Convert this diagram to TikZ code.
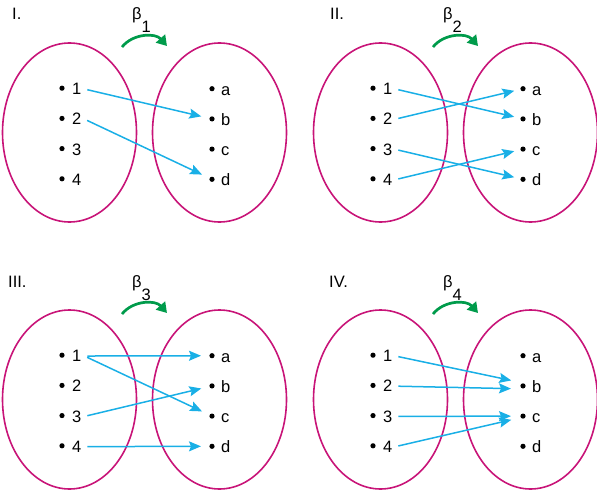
\documentclass[tikz,border=0pt]{standalone}
\usepackage{fontspec}
\setmainfont{Liberation Sans}
\usetikzlibrary{arrows.meta,shapes.geometric}
\definecolor{setpink}{RGB}{200,20,120}
\definecolor{mapblue}{RGB}{25,175,230}
\definecolor{curvegreen}{RGB}{0,155,75}

\newcommand{\setpanel}[6]{% #1 x shift, #2 y shift, #3 prefix, #4 roman label, #5 label x, #6 beta index
 \begin{scope}[shift={(#1,#2)}]
  \node[setellipse] (#3A) at (69.5,132.5) {};
  \node[setellipse] (#3B) at (219.5,132.5) {};
  \node[anchor=base west, inner sep=0pt] (#3title) at (#5,20) {#4};
  \node[anchor=base west, inner sep=0pt] (#3beta) at (132,20) {β\raisebox{-13pt}{#6}};
  \coordinate (#3g1) at (122,47);
  \coordinate (#3g2) at (167,46);
  \draw[greenarc] (#3g1) to[bend left=50] (#3g2);
  \foreach \k/\t in {1/1,2/2,3/3,4/4} {
    \node[setdot] (#3L\k) at (62,{58+30.2*\k}) {};
    \node[itemlab] (#3l\k) at (72,{64.5+30.2*\k}) {\t};
  }
  \foreach \k/\t in {1/a,2/b,3/c,4/d} {
    \node[setdot] (#3R\t) at (212,{58.5+30.2*\k}) {};
    \node[itemlab] (#3r\t) at (221,{65+30.2*\k}) {\t};
  }
 \end{scope}}

\begin{document}
\begin{tikzpicture}[x=1pt,y=-1pt,
  font=\fontsize{16.5}{19}\selectfont,
  setellipse/.style={draw=setpink, line width=1.6pt, ellipse, inner sep=0pt,
    minimum width=134pt, minimum height=179pt},
  setdot/.style={circle, fill=black, inner sep=0pt, minimum size=5.2pt},
  itemlab/.style={anchor=base west, inner sep=0pt, text width=12pt, align=left},
  mapline/.style={draw=mapblue, line width=1.5pt, shorten <=3pt, shorten >=11pt,
    -{Stealth[length=12pt,width=10pt,inset=2pt]}},
  greenarc/.style={draw=curvegreen, line width=2.7pt,
    -{Triangle[length=10pt,width=12pt]}},
]
\useasboundingbox (0,0) rectangle (597,495);

\setpanel{0}{0}{I}{I.}{12}{1}
\setpanel{311}{0}{II}{II.}{19}{2}
\setpanel{0}{267}{III}{III.}{8}{3}
\setpanel{311}{267}{IV}{IV.}{18}{4}

% I
\draw[mapline] (Il1.east) -- (IRb.center);
\draw[mapline] (Il2.east) -- (IRd.center);
% II
\draw[mapline, shorten >=9pt] (IIl1.east) -- (IIRb.center);
\draw[mapline, shorten >=9pt] (IIl2.east) -- (IIRa.center);
\draw[mapline, shorten >=9pt] (IIl3.east) -- (IIRd.center);
\draw[mapline, shorten >=9pt] (IIl4.east) -- (IIRc.center);
% III
\draw[mapline] (IIIl1.east) -- (IIIRa.center);
\draw[mapline] (IIIl1.east) -- (IIIRc.center);
\draw[mapline] (IIIl3.east) -- (IIIRb.center);
\draw[mapline] (IIIl4.east) -- (IIIRd.center);
% IV
\draw[mapline, shorten >=12pt] (IVl1.east) -- ([yshift=3pt]IVRb.center);
\draw[mapline, shorten >=12pt] (IVl2.east) -- ([yshift=-3pt]IVRb.center);
\draw[mapline, shorten >=12pt] (IVl3.east) -- (IVRc.center);
\draw[mapline, shorten >=12pt] (IVl4.east) -- ([yshift=-1pt]IVRc.center);
\end{tikzpicture}
\end{document}
